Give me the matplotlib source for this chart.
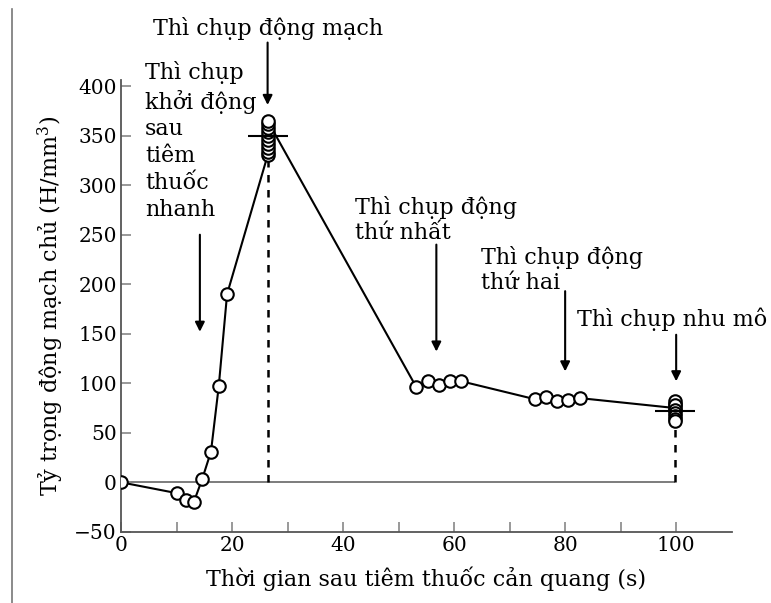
import matplotlib
matplotlib.use('Agg')
import matplotlib.pyplot as plt
from matplotlib.lines import Line2D
import numpy as np

plt.rcParams['font.family'] = ['DejaVu Serif']
plt.rcParams['mathtext.fontset'] = 'dejavuserif'

# time (s) and aortic enhancement (HU)
t_early = [0, 10.1, 11.7, 13.1, 14.6, 16.2, 17.6, 19.1]
hu_early = [0, -11, -18, -20, 3, 31, 97, 190]
t_peak = 26.4
hu_peak = [330, 334, 338, 342, 346, 350, 354, 358, 362, 365]
t_mid = [53.2, 55.3, 57.2, 59.3, 61.3, 74.5, 76.6, 78.6, 80.6, 82.7]
hu_mid = [96, 102, 98, 102, 102, 84, 86, 82, 83, 85]
t_late = 99.8
hu_late = [75, 79, 82, 78, 73, 70, 67, 64, 62]
mean_t = [26.4, 99.8]
mean_hu = [350, 72]

# labelled phases with their arrows
labels = ['Thì chụp động mạch',
          'Thì chụp\nkhởi động\nsau\ntiêm\nthuốc\nnhanh',
          'Thì chụp động\nthứ nhất',
          'Thì chụp động\nthứ hai',
          'Thì chụp nhu mô']
label_x = [26.4, 4.3, 42.1, 64.9, 82.2]
label_y = [470, 425, 289, 239, 177]
label_spacing = [1.2, 1.28, 1.2, 1.2, 1.2]
arrow_x = [26.4, 14.2, 56.8, 80.0, 100.0]
arrow_top = [444, 250, 240, 193, 149]
arrow_head = [381, 152, 132, 112, 102]
label_ha = ['center', 'left', 'left', 'left', 'left']

fig = plt.figure(figsize=(7.71, 6.03), dpi=100)
ax = fig.add_axes([0.157, 0.118, 0.792, 0.749])

t_all = t_early + [t_peak] * len(hu_peak) + t_mid + [t_late] * len(hu_late)
hu_all = hu_early + hu_peak + hu_mid + hu_late

ax.hlines(0, 0, t_late, color='#666666', lw=1.2, zorder=1)
ax.vlines([t_peak, t_late], 0, [min(hu_peak), min(hu_late)], color='black',
          lw=1.8, linestyles=(0, (3, 3)), zorder=1)
ax.plot(t_all, hu_all, color='black', lw=1.5, marker='o', ms=9,
        mfc='white', mec='black', mew=1.5, zorder=3)
ax.plot(mean_t, mean_hu, ls='none', marker='_', ms=29, mew=1.5,
        color='black', zorder=4)

for i in range(len(labels)):
    ax.text(label_x[i], label_y[i], labels[i], ha=label_ha[i], va='top',
            fontsize=16, linespacing=label_spacing[i], clip_on=False)
    ax.annotate('', xy=(arrow_x[i], arrow_head[i]),
                xytext=(arrow_x[i], arrow_top[i]),
                arrowprops=dict(arrowstyle='-|>', color='black', lw=1.5,
                                mutation_scale=14, shrinkA=0, shrinkB=0),
                annotation_clip=False)

ax.set_xlim(0, 110)
ax.set_ylim(-50, 406)
ax.set_xticks(np.arange(0, 101, 10))
ax.set_xticklabels([str(v) if v % 20 == 0 else '' for v in range(0, 101, 10)])
ax.set_yticks(np.arange(-50, 401, 50))
ax.tick_params(direction='in', length=7, width=1.2, color='#888888',
               labelsize=14.5, pad=3)
for s in ['top', 'right']:
    ax.spines[s].set_visible(False)
for s in ['left', 'bottom']:
    ax.spines[s].set_color('#555555')
    ax.spines[s].set_linewidth(1.3)

ax.set_xlabel('Thời gian sau tiêm thuốc cản quang (s)', fontsize=16, labelpad=8)
ax.set_ylabel('Tỷ trọng động mạch chủ (H/mm$^3$)', fontsize=16, labelpad=6)

fig.add_artist(Line2D([12 / 771, 12 / 771], [0, 0.985], color='#777777', lw=1.2))

fig.savefig('out.png', dpi=100)
